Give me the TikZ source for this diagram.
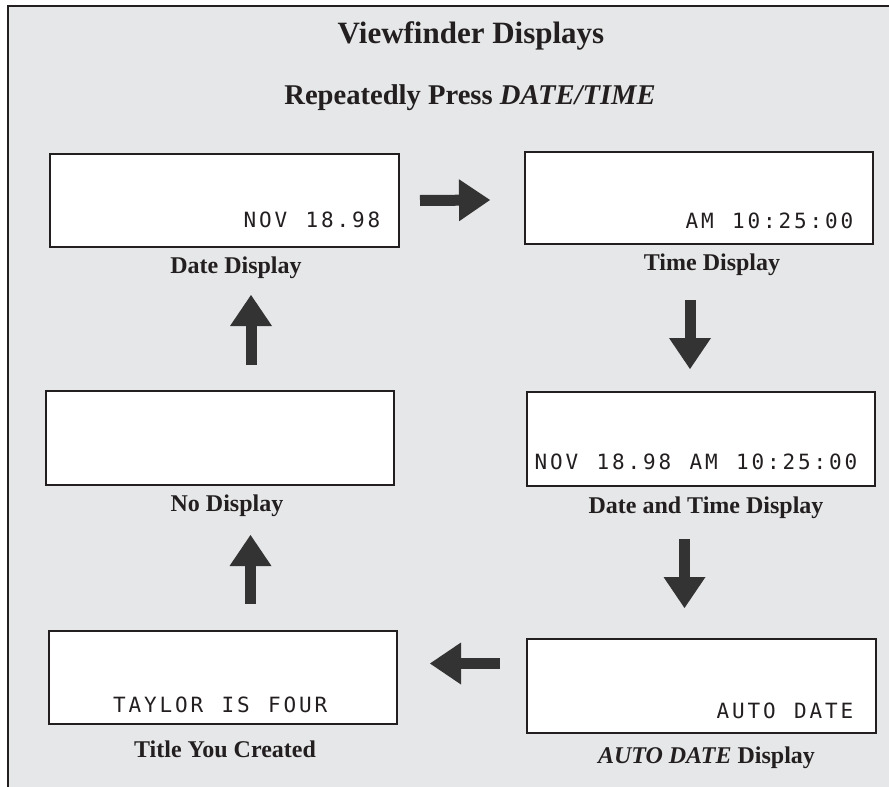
\documentclass[tikz,border=0pt]{standalone}
\usepackage{fontspec}
\setmainfont{Liberation Serif}
\newfontfamily\lcdfont{DejaVu Sans Mono}
\usetikzlibrary{arrows.meta}
\definecolor{bgc}{HTML}{E6E7E8}
\definecolor{inkc}{HTML}{231F20}
\definecolor{arrc}{HTML}{333333}
\newcommand\lcdchar[1]{\makebox[15.5pt][c]{#1}}
\def\lcdloop#1{\ifx#1\relax\else\lcdchar{#1}\expandafter\lcdloop\fi}
\newcommand\lcdtext[1]{\lcdloop#1\relax}
\begin{document}
\begin{tikzpicture}[x=1pt,y=-1pt,
  screen/.style={draw=inkc, line width=2pt, fill=white, minimum width=348pt, minimum height=93pt, inner sep=0pt},
  lcd/.style={font=\lcdfont\fontsize{21}{21}\selectfont, text=inkc, inner sep=0pt, anchor=base east},
  caption/.style={font=\bfseries\fontsize{24}{24}\selectfont, text=inkc, inner sep=0pt, anchor=base},
  blockarrow/.style={draw=arrc, line width=11pt, -{Triangle[length=31pt,width=42pt,line width=0pt]}}]
\useasboundingbox (0,0) rectangle (889,787);
\fill[bgc] (8,6) rectangle (889,787);
\draw[inkc, line width=2pt] (8,787) -- (8,6) -- (889,6);

\node[font=\bfseries\fontsize{31}{31}\selectfont, text=inkc, inner sep=0pt, anchor=base] (title) at (471,43) {Viewfinder Displays};
\node[font=\bfseries\fontsize{28.6}{28.6}\selectfont, text=inkc, inner sep=0pt, anchor=base] (sub) at (470,104) {Repeatedly Press \textit{DATE/TIME}};

\node[screen, minimum width=349pt] (date) at (224.5,200.5) {};
\node[screen, minimum height=92pt] (time) at (699,198) {};
\node[screen, minimum height=94pt] (dt) at (701,439) {};
\node[screen, minimum width=349pt, minimum height=94pt] (auto) at (701.5,686) {};
\node[screen] (mine) at (223,677.5) {};
\node[screen, minimum height=94pt] (none) at (220,438) {};

\node[lcd] (datetxt) at (382,227) {\lcdtext{NOV~18.98}};
\node[lcd] (timetxt) at (855,228) {\lcdtext{AM~10:25:00}};
\node[lcd] (dttxt) at (859,469) {\lcdtext{NOV~18.98~AM~10:25:00}};
\node[lcd] (autotxt) at (855,718) {\lcdtext{AUTO~DATE}};
\node[lcd] (minetxt) at (329,712) {\lcdtext{TAYLOR~IS~FOUR}};

\node[caption] (datecap) at (236,273) {Date Display};
\node[caption] (timecap) at (712,270) {Time Display};
\node[caption] (dtcap) at (706,513) {Date and Time Display};
\node[caption] (autocap) at (706.5,763) {\textit{AUTO DATE} Display};
\node[caption] (minecap) at (225,757) {Title You Created};
\node[caption] (nonecap) at (227,511) {No Display};

\draw[blockarrow] ([xshift=20pt]date.east) -- ([xshift=-34pt,yshift=-2pt]time.west);
\draw[blockarrow] ([xshift=-9pt,yshift=-55pt]time.south) -- ([xshift=-11pt,yshift=22pt]dt.north);
\draw[blockarrow] ([xshift=-16.5pt,yshift=-52pt]dt.south) -- ([xshift=-17pt,yshift=30pt]auto.north);
\draw[blockarrow] ([xshift=-26pt,yshift=22.5pt]auto.west) -- ([xshift=32pt,yshift=14pt]mine.east);
\draw[blockarrow] ([xshift=27.5pt,yshift=26pt]mine.north) -- ([xshift=30.5pt,yshift=-49pt]none.south);
\draw[blockarrow] ([xshift=31pt,yshift=25pt]none.north) -- ([xshift=26.5pt,yshift=-47pt]date.south);
\end{tikzpicture}
\end{document}
